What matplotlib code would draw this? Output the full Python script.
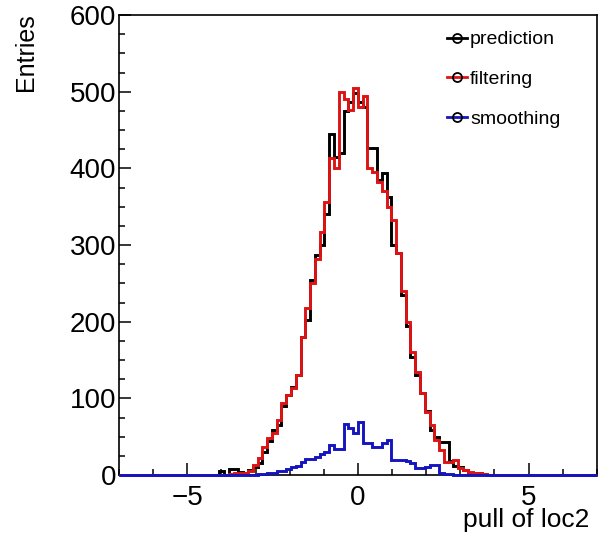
import numpy as np
import matplotlib
matplotlib.use("Agg")
import matplotlib.pyplot as plt
from matplotlib.ticker import MultipleLocator
from matplotlib.lines import Line2D

plt.rcParams['font.family'] = ['Liberation Sans', 'DejaVu Sans']

# Histogram binning: 100 bins from -7 to 7 (bin width 0.14)
x_min, x_max, n_bins = -7.0, 7.0, 100
first_bin = 19   # index of first listed bin (lower edge -4.34)

# counts from bin lower edge -4.34 upward, in steps of 0.14
prediction = [0, 0, 5, 0, 8, 8, 4, 3, 6, 10, 16, 30, 45, 59, 65, 90, 105, 115, 130, 180,
              202, 255, 287, 300, 340, 445, 415, 420, 475, 486, 498, 486, 480, 426, 426,
              385, 394, 363, 300, 290, 235, 195, 154, 130, 107, 84, 59, 50, 43, 43,
              18, 12, 10, 6, 3, 2, 2, 1, 0, 0]
filtering = [0, 0, 0, 0, 1, 2, 2, 3, 5, 13, 22, 37, 48, 55, 72, 94, 105, 113, 130, 180,
             218, 250, 282, 317, 356, 413, 400, 499, 490, 476, 505, 480, 495, 400, 395,
             382, 370, 350, 332, 290, 240, 200, 160, 135, 107, 82, 65, 46, 33, 17,
             17, 20, 9, 6, 4, 3, 2, 1, 0, 0]
smoothing = [0, 0, 0, 0, 0, 0, 0, 0, 0, 0, 1, 1, 2, 3, 5, 5, 8, 10, 12, 17,
             21, 21, 24, 27, 30, 39, 34, 34, 66, 61, 55, 69, 42, 42, 37,
             37, 42, 46, 20, 20, 20, 18, 16, 9, 9, 10, 13, 13, 3, 1,
             1, 0, 0, 0, 0, 0, 0, 0, 0, 0]

series_names = ["prediction", "filtering", "smoothing"]
series_colors = ["#000000", "#dd1414", "#1414c0"]

edges = np.linspace(x_min, x_max, n_bins + 1)

def full_counts(vals):
    arr = np.zeros(n_bins)
    arr[first_bin:first_bin + len(vals)] = vals
    return arr

fig = plt.figure(figsize=(5.98, 5.42), dpi=100)
ax = fig.add_axes([0.199, 0.1236, 0.799, 0.8487])

for z, (vals, color) in enumerate(zip([prediction, filtering, smoothing], series_colors)):
    c = full_counts(vals)
    ax.stairs(c, edges, color=color, linewidth=2.1, baseline=0, clip_on=False,
              zorder=3 + z)

ax.set_xlim(x_min, x_max)
ax.set_ylim(0, 600)

ax.set_xticks([-5, 0, 5])
ax.set_xticklabels(["\u22125", "0", "5"])
ax.xaxis.set_minor_locator(MultipleLocator(1))
ax.yaxis.set_major_locator(MultipleLocator(100))
ax.yaxis.set_minor_locator(MultipleLocator(25))

ax.tick_params(axis='both', which='major', direction='in', length=8.5, width=1.1,
               labelsize=20, top=False, right=False)
ax.tick_params(axis='both', which='minor', direction='in', length=4.5, width=1.1,
               top=False, right=False)
ax.tick_params(axis='y', which='major', pad=2)
ax.tick_params(axis='x', which='major', pad=7)
for sp in ax.spines.values():
    sp.set_linewidth(1.2)

ax.set_xlabel("pull of loc2", fontsize=19, loc='right')
ax.xaxis.set_label_coords(0.985, -0.072)
ax.set_ylabel("Entries", fontsize=18, loc='top')
ax.yaxis.set_label_coords(-0.17, 1.003)

handles = [Line2D([0], [0], color=c, lw=2, marker='o', markersize=6.5,
                  markerfacecolor='none', markeredgecolor='#000000',
                  markeredgewidth=1.3)
           for c in series_colors]
leg = fig.legend(handles, series_names, loc='upper left',
                 bbox_to_anchor=(437 / 598, 1 - 21 / 542),
                 bbox_transform=fig.transFigure, borderpad=0,
                 frameon=False, fontsize=14, handlelength=1.05, handletextpad=0.15,
                 labelspacing=1.13)

fig.savefig("out.png", dpi=100)
